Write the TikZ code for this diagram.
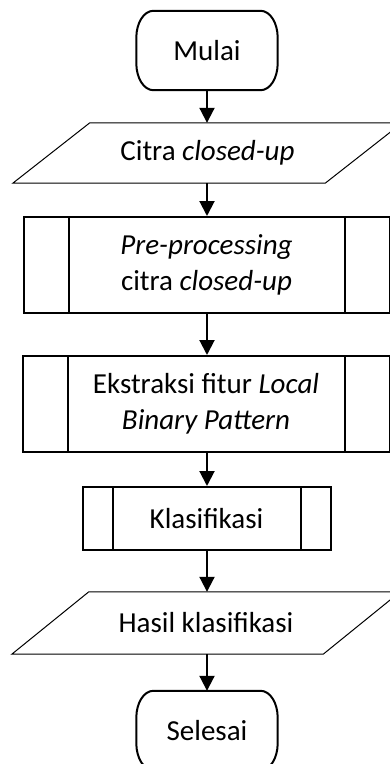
\documentclass[tikz,border=0pt]{standalone}
\usepackage{fontspec}
\setmainfont{Carlito}
\usetikzlibrary{arrows.meta,calc}
\tikzset{
  label text/.style={font=\fontsize{29}{36}\selectfont, align=center, inner sep=0pt},
  terminal/.style={label text, minimum width=141pt, minimum height=79pt},
  iobox/.style={label text, minimum height=60pt},
  procbox/.style={label text, draw, line width=2pt},
  flow/.style={line width=2pt, -{Triangle[width=15pt,length=15pt]}},
  thin/.style={line width=1pt}
}
\newcommand{\terminalshape}[1]{%
  \draw[line width=2pt]
    ([xshift=17pt]#1.north west) -- ([xshift=-17pt]#1.north east)
    arc[start angle=90, end angle=0, x radius=17pt, y radius=27pt]
    -- ([yshift=27pt]#1.south east)
    arc[start angle=0, end angle=-90, x radius=17pt, y radius=27pt]
    -- ([xshift=17pt]#1.south west)
    arc[start angle=270, end angle=180, x radius=17pt, y radius=27pt]
    -- ([yshift=-27pt]#1.north west)
    arc[start angle=180, end angle=90, x radius=17pt, y radius=27pt];}
\newcommand{\ioshape}[1]{%
  \draw[thin] (#1.south west) -- ([xshift=-77pt]#1.south east)
    -- (#1.north east) -- ([xshift=77pt]#1.north west) -- cycle;}
\newcommand{\sidebars}[2]{%
  \draw[line width=2pt] ([xshift=#2]#1.north west) -- ([xshift=#2]#1.south west);
  \draw[line width=2pt] ([xshift=-#2]#1.north east) -- ([xshift=-#2]#1.south east);}
\begin{document}
\begin{tikzpicture}[x=1pt, y=-1pt]
  \useasboundingbox (0,0) rectangle (390,764);
  \clip (0,0) rectangle (390,764);

  % terminal: start
  \node[terminal] (mulai) at (207,50.5) {Mulai};
  \terminalshape{mulai}

  % input image
  \node[iobox, minimum width=389pt] (citra) at (207.5,153) {Citra \textit{closed-up}};
  \ioshape{citra}

  % pre-processing
  \node[procbox, minimum width=366pt, minimum height=96pt] (pre) at (206.5,265)
    {\textit{Pre-processing}\\citra \textit{closed-up}};
  \sidebars{pre}{46pt}

  % feature extraction
  \node[procbox, minimum width=367pt, minimum height=96pt] (lbp) at (206,404)
    {Ekstraksi fitur \textit{Local}\\\textit{Binary Pattern}};
  \sidebars{lbp}{46pt}

  % classification
  \node[procbox, minimum width=248pt, minimum height=63pt] (klas) at (206.5,518.5)
    {Klasifikasi};
  \sidebars{klas}{31pt}

  % output
  \node[iobox, minimum width=388pt, minimum height=62pt] (hasil) at (206,623)
    {Hasil klasifikasi};
  \ioshape{hasil}

  % terminal: end
  \node[terminal] (selesai) at (207,730.5) {Selesai};
  \terminalshape{selesai}

  % connectors
  \draw[flow] (mulai.south) -- (mulai.south |- citra.north);
  \draw[flow] (citra.south -| mulai.south) -- (mulai.south |- pre.north);
  \draw[flow] (pre.south -| mulai.south) -- (mulai.south |- lbp.north);
  \draw[flow] (lbp.south -| mulai.south) -- (mulai.south |- klas.north);
  \draw[flow] (klas.south -| mulai.south) -- (mulai.south |- hasil.north);
  \draw[flow] (hasil.south -| mulai.south) -- (selesai.north);
\end{tikzpicture}
\end{document}
